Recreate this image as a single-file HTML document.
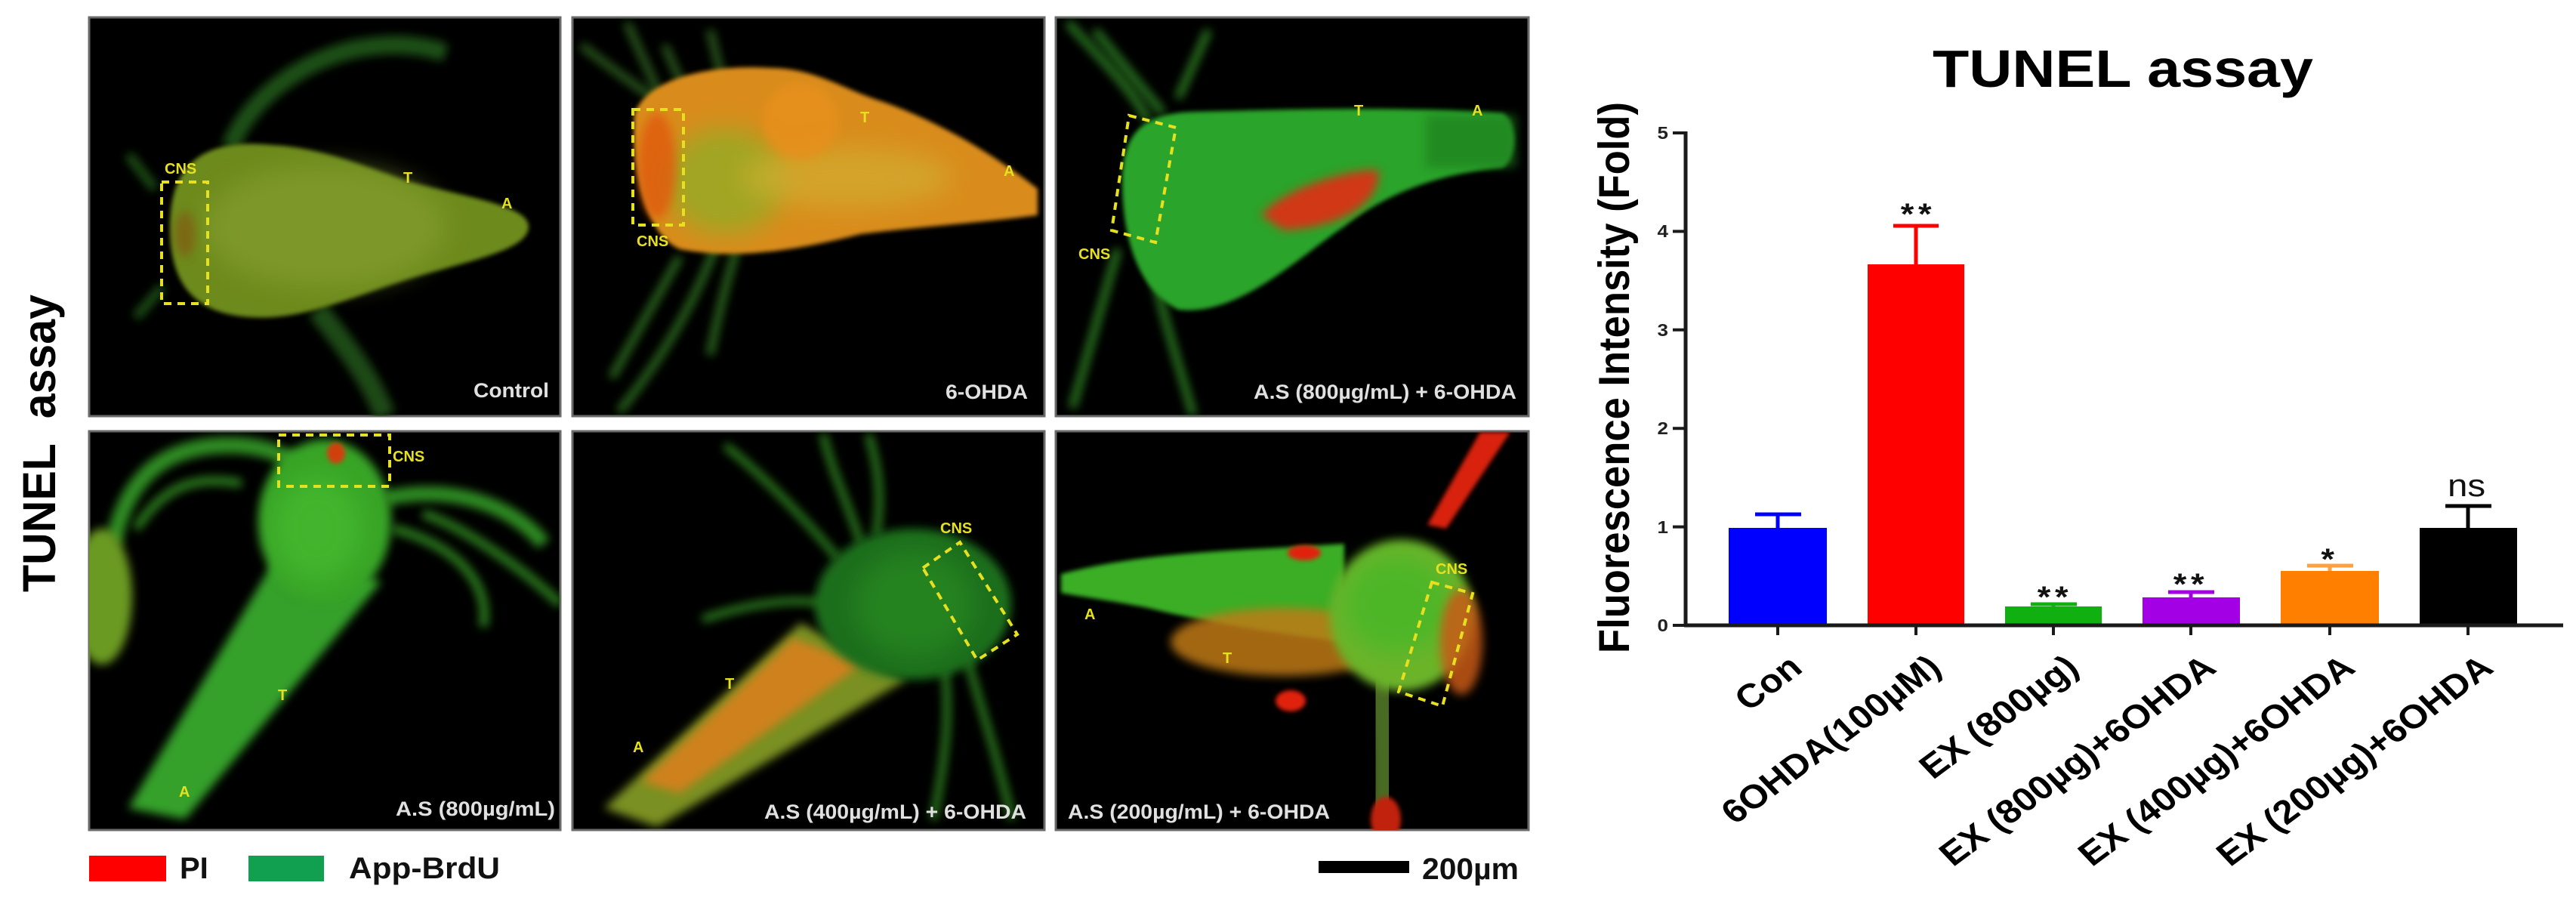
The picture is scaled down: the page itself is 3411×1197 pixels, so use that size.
<!DOCTYPE html>
<html><head><meta charset="utf-8"><style>
html,body{margin:0;padding:0;background:#fff;width:3411px;height:1197px;overflow:hidden}
svg{display:block}
text{font-family:"Liberation Sans",Arial,sans-serif}
</style></head><body>
<svg width="3411" height="1197" viewBox="0 0 3411 1197" xmlns="http://www.w3.org/2000/svg">
<defs>
<filter id="b1" x="-30%" y="-30%" width="160%" height="160%"><feGaussianBlur stdDeviation="6"/></filter>
<filter id="b2" x="-50%" y="-50%" width="200%" height="200%"><feGaussianBlur stdDeviation="16"/></filter>
<filter id="b3" x="-30%" y="-30%" width="160%" height="160%"><feGaussianBlur stdDeviation="3"/></filter>
<clipPath id="c1"><rect x="118" y="23" width="624" height="528"/></clipPath>
<clipPath id="c2"><rect x="758" y="23" width="625" height="528"/></clipPath>
<clipPath id="c3"><rect x="1398" y="23" width="626" height="528"/></clipPath>
<clipPath id="c4"><rect x="118" y="571" width="624" height="528"/></clipPath>
<clipPath id="c5"><rect x="758" y="571" width="625" height="528"/></clipPath>
<clipPath id="c6"><rect x="1398" y="571" width="626" height="528"/></clipPath>
</defs>
<rect width="3411" height="1197" fill="#fff"/>

<!-- Panel frames -->
<g fill="#000" stroke="#6a6a6a" stroke-width="3">
<rect x="118" y="23" width="624" height="528"/>
<rect x="758" y="23" width="625" height="528"/>
<rect x="1398" y="23" width="626" height="528"/>
<rect x="118" y="571" width="624" height="528"/>
<rect x="758" y="571" width="625" height="528"/>
<rect x="1398" y="571" width="626" height="528"/>
</g>

<!-- Panel 1: Control -->
<g clip-path="url(#c1)">
<path d="M305,195 C330,130 400,80 470,65 C520,55 560,60 590,70" stroke="#1d4f17" stroke-width="24" fill="none" filter="url(#b1)"/>
<path d="M420,410 C460,460 490,500 510,551" stroke="#1d4a16" stroke-width="28" fill="none" filter="url(#b1)"/>
<path d="M205,250 L170,205 M215,380 L180,420" stroke="#1d4f17" stroke-width="12" fill="none" filter="url(#b1)"/>
<path d="M225,300 C225,200 290,185 360,192 C420,195 470,215 540,240 C620,262 700,272 700,300 C700,332 620,345 540,370 C460,395 400,425 330,420 C260,415 225,380 225,300 Z" fill="#6d8a1e" filter="url(#b3)"/>
<ellipse cx="430" cy="300" rx="160" ry="80" fill="#88a230" opacity="0.6" filter="url(#b2)"/>
<ellipse cx="245" cy="310" rx="14" ry="30" fill="#8a4a10" opacity="0.5" filter="url(#b1)"/>
<rect x="214" y="241" width="61" height="161" fill="none" stroke="#e6e020" stroke-width="4" stroke-dasharray="10 8"/>
<g fill="#e6e020" font-weight="bold" font-size="20"><text x="218" y="230">CNS</text><text x="534" y="242">T</text><text x="664" y="276">A</text></g>
<text x="727" y="526" text-anchor="end" font-size="27" font-weight="bold" fill="#e0e0e0" textLength="100" lengthAdjust="spacingAndGlyphs">Control</text>
</g>

<!-- Panel 2: 6-OHDA -->
<g clip-path="url(#c2)">
<path d="M770,60 C820,100 870,130 900,160 M830,30 L880,140 M940,40 L960,120 M880,60 L920,150" stroke="#2a5a1a" stroke-width="10" fill="none" filter="url(#b1)"/>
<path d="M950,320 C920,400 880,470 820,545 M975,330 C960,380 950,420 940,470 M900,340 L810,500" stroke="#2a6a1e" stroke-width="10" fill="none" filter="url(#b1)"/>
<path d="M840,150 C860,100 950,85 1020,90 C1080,90 1120,120 1170,135 C1240,160 1310,200 1374,250 L1374,285 C1300,295 1220,300 1140,310 C1060,330 980,345 900,330 C855,310 835,230 840,150Z" fill="#d98c1a" filter="url(#b3)"/>
<ellipse cx="960" cy="240" rx="80" ry="70" fill="#8ab028" opacity="0.7" filter="url(#b2)"/>
<ellipse cx="1120" cy="235" rx="140" ry="40" fill="#d0b030" opacity="0.65" filter="url(#b2)"/>
<ellipse cx="870" cy="220" rx="25" ry="70" fill="#e05a10" opacity="0.8" filter="url(#b1)"/>
<ellipse cx="1060" cy="160" rx="50" ry="50" fill="#e8901a" opacity="0.8" filter="url(#b1)"/>
<rect x="838" y="145" width="67" height="153" fill="none" stroke="#e6e020" stroke-width="4" stroke-dasharray="10 8"/>
<g fill="#e6e020" font-weight="bold" font-size="20"><text x="843" y="326">CNS</text><text x="1139" y="162">T</text><text x="1329" y="233">A</text></g>
<text x="1361" y="528" text-anchor="end" font-size="27" font-weight="bold" fill="#e0e0e0" textLength="109" lengthAdjust="spacingAndGlyphs">6-OHDA</text>
</g>

<!-- Panel 3 -->
<g clip-path="url(#c3)">
<path d="M1414,30 C1460,80 1500,120 1520,160 M1480,330 C1460,400 1440,470 1420,540 M1520,330 C1540,420 1560,480 1580,550 M1560,130 L1600,40 M1450,40 L1540,150" stroke="#2a7a20" stroke-width="10" fill="none" filter="url(#b1)"/>
<path d="M1486,240 C1486,170 1520,150 1580,148 C1700,145 1850,140 1990,150 C2010,160 2010,210 1990,222 C1900,230 1830,260 1780,300 C1720,340 1640,420 1560,410 C1500,380 1486,300 1486,240 Z" fill="#2aa42a" filter="url(#b3)"/>
<rect x="1888" y="152" width="120" height="70" fill="#1f7a1e" opacity="0.6" filter="url(#b1)"/>
<path d="M1670,285 C1700,250 1780,225 1825,225 C1830,260 1790,300 1700,305 Z" fill="#d03818" filter="url(#b1)"/>
<polygon points="1495,153 1557,169 1530,321 1472,305" fill="none" stroke="#e6e020" stroke-width="4" stroke-dasharray="10 8"/>
<g fill="#e6e020" font-weight="bold" font-size="20"><text x="1428" y="343">CNS</text><text x="1793" y="153">T</text><text x="1949" y="153">A</text></g>
<text x="2008" y="528" text-anchor="end" font-size="27" font-weight="bold" fill="#e0e0e0" textLength="348" lengthAdjust="spacingAndGlyphs">A.S (800µg/mL) + 6-OHDA</text>
</g>

<!-- Panel 4 -->
<g clip-path="url(#c4)">
<path d="M150,720 C170,620 230,585 320,590 C380,595 400,620 420,640" stroke="#2e8a22" stroke-width="22" fill="none" filter="url(#b1)"/>
<path d="M180,700 C220,640 260,630 320,640 M520,700 C600,720 650,770 640,830 M560,680 C620,700 700,760 742,800" stroke="#2a7a1e" stroke-width="12" fill="none" filter="url(#b1)"/>
<path d="M510,660 C600,640 680,670 720,720" stroke="#2e8a22" stroke-width="20" fill="none" filter="url(#b1)"/>
<ellipse cx="135" cy="790" rx="40" ry="90" fill="#6a9a22" filter="url(#b1)"/>
<path d="M370,730 L505,770 L245,1085 L170,1070 Z" fill="#36a02c" filter="url(#b1)"/>
<ellipse cx="430" cy="690" rx="88" ry="108" fill="#38a428" filter="url(#b1)"/>
<ellipse cx="420" cy="700" rx="60" ry="70" fill="#48c030" opacity="0.6" filter="url(#b2)"/>
<ellipse cx="445" cy="600" rx="12" ry="14" fill="#d04010" filter="url(#b3)"/>
<rect x="369" y="576" width="147" height="68" fill="none" stroke="#e6e020" stroke-width="4" stroke-dasharray="10 8"/>
<g fill="#e6e020" font-weight="bold" font-size="20"><text x="520" y="611">CNS</text><text x="368" y="927">T</text><text x="237" y="1055">A</text></g>
<text x="524" y="1080" font-size="27" font-weight="bold" fill="#e0e0e0" textLength="211" lengthAdjust="spacingAndGlyphs">A.S (800µg/mL)</text>
</g>

<!-- Panel 5 -->
<g clip-path="url(#c5)">
<path d="M1110,740 C1060,680 1000,620 960,590 M1140,720 C1120,660 1100,620 1090,575 M1160,710 C1170,650 1160,610 1150,575 M1280,870 C1300,940 1320,1000 1340,1085 M1250,880 C1260,950 1250,1010 1236,1085 M1100,800 C1050,790 990,800 930,820" stroke="#2a7a1e" stroke-width="10" fill="none" filter="url(#b1)"/>
<path d="M1060,825 L1200,900 L870,1095 L800,1070 Z" fill="#7a9022" filter="url(#b1)"/>
<path d="M1050,845 L1140,880 L900,1050 L850,1035 Z" fill="#d8801a" opacity="0.9" filter="url(#b1)"/>
<ellipse cx="1209" cy="800" rx="130" ry="100" fill="#1f6e1a" filter="url(#b1)"/>
<ellipse cx="1210" cy="800" rx="80" ry="70" fill="#2a9020" opacity="0.6" filter="url(#b2)"/>
<polygon points="1222,752 1271,718 1347,840 1294,874" fill="none" stroke="#e6e020" stroke-width="4" stroke-dasharray="10 8"/>
<g fill="#e6e020" font-weight="bold" font-size="20"><text x="1245" y="706">CNS</text><text x="960" y="912">T</text><text x="838" y="996">A</text></g>
<text x="1012" y="1084" font-size="27" font-weight="bold" fill="#e0e0e0" textLength="347" lengthAdjust="spacingAndGlyphs">A.S (400µg/mL) + 6-OHDA</text>
</g>

<!-- Panel 6 -->
<g clip-path="url(#c6)">
<path d="M1825,900 C1835,970 1840,1030 1830,1100" stroke="#4a6a20" stroke-width="40" fill="none" filter="url(#b1)"/>
<ellipse cx="1835" cy="1085" rx="20" ry="30" fill="#c02010" filter="url(#b3)"/>
<path d="M1960,572 L2000,572 L1915,700 L1890,695 Z" fill="#d82010" filter="url(#b3)"/>
<path d="M1405,760 C1500,735 1600,730 1700,725 L1780,720 L1780,850 C1700,840 1600,825 1520,805 C1470,795 1430,790 1405,785 Z" fill="#3aae28" filter="url(#b3)"/>
<ellipse cx="1700" cy="850" rx="150" ry="45" fill="#c07a18" opacity="0.85" filter="url(#b1)"/>
<ellipse cx="1856" cy="815" rx="95" ry="100" fill="#6cb42c" filter="url(#b1)"/>
<ellipse cx="1850" cy="800" rx="70" ry="65" fill="#40b828" opacity="0.7" filter="url(#b2)"/>
<ellipse cx="1935" cy="850" rx="28" ry="70" fill="#c85a18" opacity="0.85" filter="url(#b1)"/>
<ellipse cx="1727" cy="732" rx="22" ry="10" fill="#e02010" filter="url(#b3)"/>
<ellipse cx="1709" cy="928" rx="20" ry="14" fill="#e02010" filter="url(#b3)"/>
<polygon points="1896,771 1950,786 1910,935 1852,916" fill="none" stroke="#e6e020" stroke-width="4" stroke-dasharray="10 8"/>
<g fill="#e6e020" font-weight="bold" font-size="20"><text x="1901" y="760">CNS</text><text x="1619" y="878">T</text><text x="1436" y="820">A</text></g>
<text x="1414" y="1084" font-size="27" font-weight="bold" fill="#e0e0e0" textLength="347" lengthAdjust="spacingAndGlyphs">A.S (200µg/mL) + 6-OHDA</text>
</g>

<!-- Left label -->
<text transform="translate(73,587) scale(1.08,1) rotate(-90)" text-anchor="middle" font-size="57" font-weight="bold" fill="#000" textLength="394" lengthAdjust="spacingAndGlyphs">TUNEL&#160; assay</text>

<!-- Legend -->
<rect x="118" y="1133" width="102" height="34" fill="#ff0000"/>
<text x="238" y="1163" font-size="40" font-weight="bold" fill="#111">PI</text>
<rect x="329" y="1133" width="100" height="34" fill="#10a050"/>
<text x="462" y="1163" font-size="40" font-weight="bold" fill="#111" textLength="200" lengthAdjust="spacingAndGlyphs">App-BrdU</text>
<rect x="1746" y="1140" width="120" height="16" fill="#000"/>
<text x="1883" y="1164" font-size="40" font-weight="bold" fill="#111" textLength="128" lengthAdjust="spacingAndGlyphs">200µm</text>

<!-- Chart -->
<text transform="translate(2811,115) scale(1.13,1)" text-anchor="middle" font-size="70" font-weight="bold" fill="#000">TUNEL assay</text>
<text transform="translate(2157,500) scale(1.1,1) rotate(-90)" text-anchor="middle" font-size="52" font-weight="bold" fill="#000" textLength="730" lengthAdjust="spacingAndGlyphs">Fluorescence Intensity (Fold)</text>

<!-- bars -->
<rect x="2289" y="699" width="130" height="129" fill="#0000ff"/>
<rect x="2473" y="350" width="128" height="478" fill="#ff0000"/>
<rect x="2655" y="803" width="128" height="25" fill="#10b010"/>
<rect x="2837" y="791" width="129" height="37" fill="#a400e6"/>
<rect x="3020" y="756" width="130" height="72" fill="#ff8000"/>
<rect x="3204" y="699" width="129" height="129" fill="#000"/>

<!-- error bars -->
<g stroke-width="5" fill="none">
<path d="M2354,699 V681 M2324,681 H2385" stroke="#0000ff"/>
<path d="M2537,350 V299 M2507,299 H2567" stroke="#ff0000"/>
<path d="M2719,803 V800 M2689,800 H2750" stroke="#10b010"/>
<path d="M2901,791 V784 M2871,784 H2932" stroke="#a400e6"/>
<path d="M3085,756 V749 M3055,749 H3116" stroke="#ffa040"/>
<path d="M3268,699 V670 M3238,670 H3299" stroke="#000"/>
</g>

<!-- axes -->
<g stroke="#1a1a1a" fill="none">
<path d="M2232,174 V830" stroke-width="5"/>
<path d="M2230,828 H3394" stroke-width="5"/>
<path d="M2215,828 H2232 M2215,697.6 H2232 M2215,567.2 H2232 M2215,436.8 H2232 M2215,306.4 H2232 M2215,176 H2232" stroke-width="4"/>
<path d="M2354,828 V841 M2537,828 V841 M2719,828 V841 M2901,828 V841 M3085,828 V841 M3268,828 V841" stroke-width="4"/>
</g>
<g font-size="23" font-weight="bold" fill="#222" text-anchor="end">
<text transform="translate(2209,836) scale(1.13,1)">0</text>
<text transform="translate(2209,706) scale(1.13,1)">1</text>
<text transform="translate(2209,575) scale(1.13,1)">2</text>
<text transform="translate(2209,445) scale(1.13,1)">3</text>
<text transform="translate(2209,314) scale(1.13,1)">4</text>
<text transform="translate(2209,184) scale(1.13,1)">5</text>
</g>

<!-- significance -->
<g font-size="40" font-weight="bold" fill="#111" text-anchor="middle" letter-spacing="5">
<text transform="translate(2540,297) scale(1.13,1)">**</text>
<text transform="translate(2721,804) scale(1.13,1)">**</text>
<text transform="translate(2901,787) scale(1.13,1)">**</text>
<text transform="translate(3085,754) scale(1.13,1)">*</text>
</g>
<text transform="translate(3266,657) scale(1.13,1)" text-anchor="middle" font-size="42" fill="#111">ns</text>

<!-- x labels -->
<g font-size="44" font-weight="bold" fill="#000" text-anchor="end">
<text transform="translate(2389,888) scale(1.13,1) rotate(-40)">Con</text>
<text transform="translate(2573,888) scale(1.13,1) rotate(-40)">6OHDA(100µM)</text>
<text transform="translate(2755,888) scale(1.13,1) rotate(-40)">EX (800µg)</text>
<text transform="translate(2937,888) scale(1.13,1) rotate(-40)">EX (800µg)+6OHDA</text>
<text transform="translate(3121,888) scale(1.13,1) rotate(-40)">EX (400µg)+6OHDA</text>
<text transform="translate(3304,888) scale(1.13,1) rotate(-40)">EX (200µg)+6OHDA</text>
</g>
</svg>
</body></html>
